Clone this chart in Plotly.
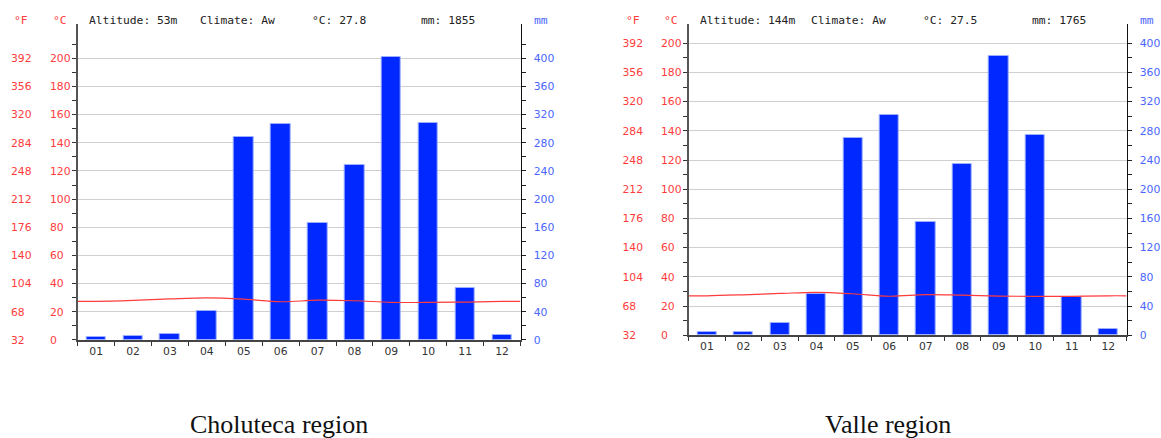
import plotly.graph_objects as go

W, H = 1161, 438
# page height as laid out by the browser (graph div plus the line box below it)
PAGE_H = 445

# ---- data -------------------------------------------------------------
months = ["01", "02", "03", "04", "05", "06", "07", "08", "09", "10", "11", "12"]

choluteca_rain_mm = [4, 6, 8, 41, 288, 306, 166, 248, 402, 308, 74, 7]
choluteca_temp_c = [27.4, 28.1, 29.1, 29.8, 28.9, 27.1, 28.2, 27.8, 26.7, 26.6, 26.9, 27.3]

valle_rain_mm = [4, 5, 17, 56, 270, 302, 155, 235, 383, 275, 52, 9]
valle_temp_c = [27.0, 27.7, 28.6, 29.4, 28.4, 26.7, 27.8, 27.4, 26.8, 26.6, 26.6, 27.0]

choluteca_info = {"altitude": "53m", "climate": "Aw", "mean_c": "27.8", "total_mm": "1855"}
valle_info = {"altitude": "144m", "climate": "Aw", "mean_c": "27.5", "total_mm": "1765"}

captions = ["Choluteca region", "Valle region"]

c_ticks = list(range(0, 201, 20))
f_ticks = [32 + 1.8 * c for c in c_ticks]
mm_ticks = list(range(0, 401, 40))

# ---- styling ----------------------------------------------------------
BAR_BLUE = "#0028ff"
BAR_EDGE = "#9fb0ff"
RED = "#ff3b3b"
BLUE_TXT = "#4a66ff"
GRID = "#cfcfcf"
MONO = "DejaVu Sans Mono"
SANS = "DejaVu Sans"
TICK_SIZE = 10.8

fig = go.Figure()
annotations = []


def px_x(x):
    return x / W


def px_y(y):
    return 1 - (y * PAGE_H / H) / H


def add_panel(idx, rain, temp, info, caption, left, right, bottom, top, c_top,
              f_lab_x, c_lab_x, minor_c_top):
    n = idx * 4
    xa = "x" if idx == 0 else "x2"
    xname = "xaxis" if idx == 0 else "xaxis2"
    ymm, yc, ycl, yf = (f"y{n + 1}" if n else "y"), f"y{n + 2}", f"y{n + 3}", f"y{n + 4}"
    name = lambda y: "yaxis" if y == "y" else "yaxis" + y[1:]

    xs = list(range(1, 13))
    fig.add_trace(go.Bar(
        x=xs, y=rain, xaxis=xa, yaxis=ymm, width=0.53,
        marker=dict(color=BAR_BLUE, line=dict(color=BAR_EDGE, width=1)),
        showlegend=False, hoverinfo="skip"))
    fig.add_trace(go.Scatter(
        x=[0.5] + xs + [12.5], y=[temp[0]] + temp + [temp[-1]],
        xaxis=xa, yaxis=yc, mode="lines",
        line=dict(color=RED, width=1.2, shape="spline", smoothing=1),
        showlegend=False, hoverinfo="skip"))
    # empty traces so the label-only scales get drawn
    for ya in (ycl, yf):
        fig.add_trace(go.Scatter(x=[None], y=[None], xaxis=xa, yaxis=ya, mode="lines",
                                 showlegend=False, hoverinfo="skip"))

    dom_x = [px_x(left), px_x(right)]
    dom_y = [px_y(bottom), px_y(top)]

    fig.layout[xname] = dict(
        domain=dom_x, range=[0.5, 12.5], anchor=ymm,
        tickmode="array", tickvals=xs, ticktext=months, ticks="",
        tickfont=dict(family=SANS, size=TICK_SIZE, color="#333"),
        showline=True, linecolor="#444", linewidth=2, showgrid=False, zeroline=False,
        minor=dict(tickmode="array", tickvals=[i + 0.5 for i in range(13)],
                   ticks="outside", ticklen=4, tickcolor="#333", tickwidth=1),
        fixedrange=True)

    # precipitation axis (right side, carries the grid)
    fig.layout[name(ymm)] = dict(
        domain=dom_y, range=[0, 2 * c_top], anchor=xa, side="right",
        tickmode="array", tickvals=mm_ticks, ticks="outside", ticklen=4,
        tickcolor="#222", tickfont=dict(family=SANS, size=TICK_SIZE, color=BLUE_TXT),
        ticklabelstandoff=6,
        showline=True, linecolor="#111", linewidth=1,
        showgrid=True, gridcolor=GRID, gridwidth=1.3, zeroline=False,
        minor=dict(tickmode="array", tickvals=list(range(20, int(2 * minor_c_top) + 1, 40)),
                   ticks="outside", ticklen=4, tickcolor="#222", showgrid=False),
        fixedrange=True)

    # temperature axis line (left side)
    fig.layout[name(yc)] = dict(
        overlaying=ymm, range=[0, c_top], anchor=xa, side="left",
        tickmode="array", tickvals=c_ticks, ticks="outside", ticklen=4,
        tickcolor="#333", showticklabels=False,
        showline=True, linecolor="#555", linewidth=2, showgrid=False, zeroline=False,
        minor=dict(tickmode="array", tickvals=list(range(10, minor_c_top + 1, 20)),
                   ticks="outside", ticklen=4, tickcolor="#333", showgrid=False),
        fixedrange=True)

    # °C tick labels
    fig.layout[name(ycl)] = dict(
        overlaying=ymm, range=[0, c_top], anchor="free", position=px_x(c_lab_x), side="right",
        tickmode="array", tickvals=c_ticks, ticks="", showline=False, showgrid=False,
        zeroline=False, tickfont=dict(family=SANS, size=TICK_SIZE, color=RED), fixedrange=True)

    # °F tick labels
    fig.layout[name(yf)] = dict(
        overlaying=ymm, range=[32, 32 + 1.8 * c_top], anchor="free", position=px_x(f_lab_x),
        side="right", tickmode="array", tickvals=f_ticks,
        ticktext=[str(int(round(v))) for v in f_ticks], ticks="", showline=False,
        showgrid=False, zeroline=False,
        tickfont=dict(family=SANS, size=TICK_SIZE, color=RED), fixedrange=True)

    hy = px_y(20.5)
    mono = dict(family=MONO, size=11.3)
    annotations.extend([
        dict(text="°F", x=px_x(f_lab_x + 2), y=hy, font=dict(mono, color=RED)),
        dict(text="°C", x=px_x(c_lab_x + 2), y=hy, font=dict(mono, color=RED)),
        dict(text=f"Altitude: {info['altitude']}", x=px_x(left + 9.5), y=hy,
             font=dict(mono, color="#222")),
        dict(text=f"Climate: {info['climate']}", x=px_x(left + 120.5), y=hy,
             font=dict(mono, color="#222")),
        dict(text=f"°C: {info['mean_c']}", x=px_x(left + 232.5), y=hy,
             font=dict(mono, color="#222")),
        dict(text=f"mm: {info['total_mm']}", x=px_x(left + 341.5), y=hy,
             font=dict(mono, color="#222")),
        dict(text="mm", x=px_x(right + 11.5), y=hy, font=dict(mono, color=BLUE_TXT)),
    ])
    annotations.append(dict(
        text=caption, x=px_x((left + right) / 2 - 20), y=px_y(425), xanchor="center",
        font=dict(family="Liberation Serif", size=26, color="#111")))


add_panel(0, choluteca_rain_mm, choluteca_temp_c, choluteca_info, captions[0],
          left=77.7, right=520.5, bottom=340.0, top=24.0, c_top=224.35,
          f_lab_x=10, c_lab_x=49, minor_c_top=210)
add_panel(1, valle_rain_mm, valle_temp_c, valle_info, captions[1],
          left=688.7, right=1126.5, bottom=335.3, top=24.0, c_top=213.2,
          f_lab_x=621.5, c_lab_x=660, minor_c_top=190)

for a in annotations:
    a.setdefault("xref", "paper")
    a.setdefault("yref", "paper")
    a.setdefault("xanchor", "left")
    a.setdefault("yanchor", "middle")
    a["showarrow"] = False

fig.update_layout(
    width=W, height=H, margin=dict(l=0, r=0, t=0, b=0),
    paper_bgcolor="white", plot_bgcolor="white",
    bargap=0, showlegend=False, annotations=annotations,
)

fig.write_html("out.html", config={"displayModeBar": False})
